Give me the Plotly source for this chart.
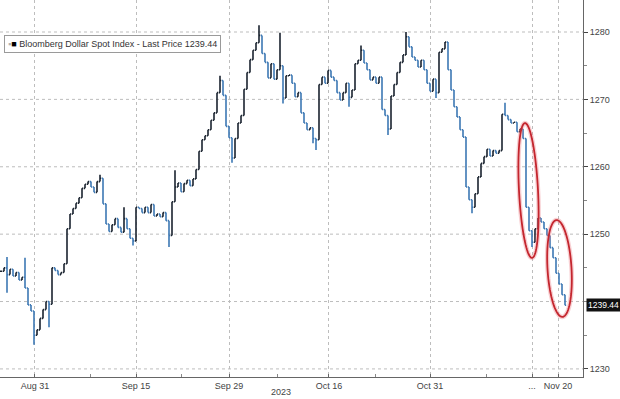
import numpy as np
import plotly.graph_objects as go

# ---------------- data ----------------
closes = [
    1244.5, 1245.0, 1244.0, 1244.8, 1243.8, 1244.3, 1243.2, 1243.6, 1242.0, 1239.5,
    1238.6, 1235.0, 1235.8, 1237.5, 1238.8, 1240.0, 1239.6, 1245.0, 1244.6, 1244.0,
    1244.3, 1245.6, 1250.8, 1253.0, 1253.8, 1254.6, 1255.4, 1256.8, 1257.4, 1257.8,
    1257.0, 1256.2, 1257.8, 1258.3, 1254.5, 1251.5, 1250.4, 1251.4, 1252.3, 1251.0,
    1250.3, 1252.3, 1250.8, 1249.4, 1249.0, 1254.0, 1253.8, 1253.2, 1254.0, 1253.2,
    1254.4, 1252.7, 1253.0, 1252.6, 1253.2, 1252.0, 1249.8, 1254.8, 1257.0, 1257.6,
    1256.3, 1257.5, 1258.0, 1257.2, 1258.2, 1259.6, 1262.3, 1264.0, 1264.6, 1265.5,
    1266.9, 1268.0, 1271.0, 1272.8, 1270.6, 1266.0, 1264.3, 1261.3, 1264.2, 1266.5,
    1267.6, 1271.5, 1274.0, 1275.9, 1277.3, 1278.4, 1279.5, 1276.8, 1275.5, 1273.2,
    1275.3, 1273.0, 1274.4, 1275.0, 1270.2, 1273.5, 1273.6, 1272.4, 1270.4, 1271.0,
    1268.0, 1266.5, 1265.5, 1265.8, 1264.2, 1264.0, 1272.2, 1273.3, 1272.4, 1274.3,
    1273.3, 1272.8, 1271.0, 1269.9, 1271.0, 1272.4, 1270.3, 1271.4, 1275.3, 1275.8,
    1277.3, 1275.4, 1274.4, 1272.9, 1273.3, 1272.4, 1273.3, 1268.5, 1267.6, 1265.6,
    1270.5, 1272.2, 1274.0, 1275.5, 1276.6, 1279.3, 1277.8, 1276.3, 1275.8, 1274.8,
    1275.8, 1274.4, 1272.4, 1271.2, 1273.0, 1271.0, 1277.0, 1277.5, 1278.5, 1274.4,
    1271.4, 1268.9, 1267.4, 1265.5, 1264.4, 1257.0, 1255.1, 1254.0, 1256.0, 1258.5,
    1260.5, 1261.5, 1262.6, 1261.6, 1262.4, 1262.0, 1262.4, 1267.8, 1267.6, 1267.0,
    1266.5, 1266.6, 1265.2, 1265.6, 1264.2, 1254.0, 1250.5, 1248.8, 1250.8, 1252.4,
    1251.8, 1250.8, 1249.8, 1248.0, 1246.5, 1244.2, 1242.6, 1241.0, 1239.44,
]
spike_hi_idx = [2, 8, 33, 41, 58, 73, 86, 93, 120, 135, 168]
spike_hi_val = [1246.6, 1246.5, 1258.8, 1254.0, 1259.5, 1273.5, 1281.0, 1279.9, 1278.0, 1280.0, 1269.5]
spike_lo_idx = [2, 11, 16, 44, 56, 77, 94, 104, 105, 116, 129, 145, 157, 177]
spike_lo_val = [1241.3, 1233.6, 1236.2, 1248.3, 1248.1, 1260.6, 1269.4, 1263.5, 1262.5, 1268.9, 1264.7, 1270.2, 1253.1, 1248.1]

tick_labels = ["Aug 31", "Sep 15", "Sep 29", "Oct 16", "Oct 31", "...", "Nov 20"]
tick_pos = [11.3, 45.0, 76.0, 109.3, 143.0, 177.0, 185.7]
minor_pos = [29.7, 60.3, 92.0, 124.7, 161.7]
y_labels = [1230, 1250, 1260, 1270, 1280]
y_grid = [1230, 1240, 1250, 1260, 1270, 1280]
last_price = 1239.44
series_name = "Bloomberg Dollar Spot Index - Last Price"

# ---------------- build OHLC ----------------
n = len(closes)
xi = list(range(n))
opens = [closes[0]] + closes[:-1]
highs = [max(o, c) for o, c in zip(opens, closes)]
lows = [min(o, c) for o, c in zip(opens, closes)]
for i, v in zip(spike_hi_idx, spike_hi_val):
    highs[i] = max(highs[i], v)
for i, v in zip(spike_lo_idx, spike_lo_val):
    lows[i] = min(lows[i], v)

fig = go.Figure()
fig.add_trace(go.Ohlc(
    x=xi, open=opens, high=highs, low=lows, close=closes,
    increasing=dict(line=dict(color="#1b2430", width=1.6)),
    decreasing=dict(line=dict(color="#3d78b4", width=1.6)),
    tickwidth=0.4, showlegend=False, hoverinfo="skip",
))

# ---------------- geometry ----------------
W, H = 620, 399
ML, MR, MT, MB = 0, 37, 0, 22
PW, PH = W - ML - MR, H - MT - MB
XR = [-1 / 3, 194.0]
YR = [1228.8, 1284.75]


def px_to_data(px, py):
    x = XR[0] + (px - ML) / PW * (XR[1] - XR[0])
    y = YR[1] - (py - MT) / PH * (YR[1] - YR[0])
    return x, y


def ellipse_path(cx, cy, a, b, tilt_deg):
    t = np.linspace(0, 2 * np.pi, 80)
    th = np.deg2rad(tilt_deg)
    ex = a * np.cos(t)
    ey = b * np.sin(t)
    px = cx + ex * np.cos(th) - ey * np.sin(th)
    py = cy + ex * np.sin(th) + ey * np.cos(th)
    pts = [px_to_data(u, v) for u, v in zip(px, py)]
    return "M " + " L ".join(f"{x:.3f},{y:.3f}" for x, y in pts) + " Z"


shapes = []
for (cx, cy, a, b, tilt) in [(528.5, 190.5, 9.5, 67.5, -3.0), (559.5, 268.5, 12.0, 48.5, -3.5)]:
    p = ellipse_path(cx, cy, a, b, tilt)
    shapes.append(dict(type="path", path=p, xref="x", yref="y",
                       line=dict(color="rgba(235,120,130,0.35)", width=4.5)))
    shapes.append(dict(type="path", path=p, xref="x", yref="y",
                       line=dict(color="#c4262e", width=1.8)))

# horizontal dotted grid lines (incl. 1240, whose label is replaced by the last-price tag)
for gv in y_grid:
    shapes.append(dict(type="line", xref="paper", yref="y", x0=0, x1=1, y0=gv, y1=gv,
                       line=dict(color="#bdbdbd", width=1, dash="dot"), layer="below"))

font = "Liberation Sans, Arial, sans-serif"

fig.update_layout(
    width=W, height=H,
    margin=dict(l=ML, r=MR, t=MT, b=MB),
    paper_bgcolor="white", plot_bgcolor="white",
    font=dict(family=font, size=9, color="#444"),
    shapes=shapes,
    xaxis=dict(
        range=XR, rangeslider=dict(visible=False),
        tickmode="array", tickvals=tick_pos, ticktext=tick_labels,
        showgrid=True, gridcolor="#bdbdbd", griddash="dot", gridwidth=1,
        showline=True, linecolor="#666", linewidth=1,
        ticks="inside", ticklen=3, tickcolor="#666",
        tickfont=dict(size=9, color="#444"),
        minor=dict(tickvals=minor_pos, ticks="inside", ticklen=3, tickcolor="#888", showgrid=False),
        zeroline=False, fixedrange=True,
    ),
    yaxis=dict(
        range=YR, side="right",
        tickmode="array", tickvals=y_labels,
        showgrid=False,
        showline=True, linecolor="#666", linewidth=1,
        ticks="outside", ticklen=4, tickcolor="#444",
        tickfont=dict(size=9, color="#444"),
        minor=dict(dtick=5, tick0=1230, ticks="outside", ticklen=3, tickcolor="#888", showgrid=False),
        zeroline=False, fixedrange=True,
    ),
    annotations=[
        dict(
            text='<span style="color:#b0b0b0">▪</span><span style="color:#000">■</span> '
                 + f"{series_name} {last_price:.2f}",
            xref="paper", yref="paper", x=4 / PW, y=1 - 44 / PH,
            xanchor="left", yanchor="middle", showarrow=False,
            font=dict(family=font, size=9, color="#333"),
            bgcolor="white", bordercolor="#9a9a9a", borderwidth=1, borderpad=3,
        ),
        dict(
            text=f"{last_price:.2f}", xref="paper", yref="y", x=1, y=last_price,
            xanchor="left", yanchor="middle", xshift=3, showarrow=False,
            font=dict(family=font, size=8.5, color="white"),
            bgcolor="#111", borderpad=1,
        ),
        dict(
            text="2023", xref="paper", yref="paper", x=281 / PW, y=-15 / PH,
            xanchor="center", yanchor="middle", showarrow=False,
            font=dict(family=font, size=9, color="#444"),
        ),
    ],
)

fig.write_html("out.html")
